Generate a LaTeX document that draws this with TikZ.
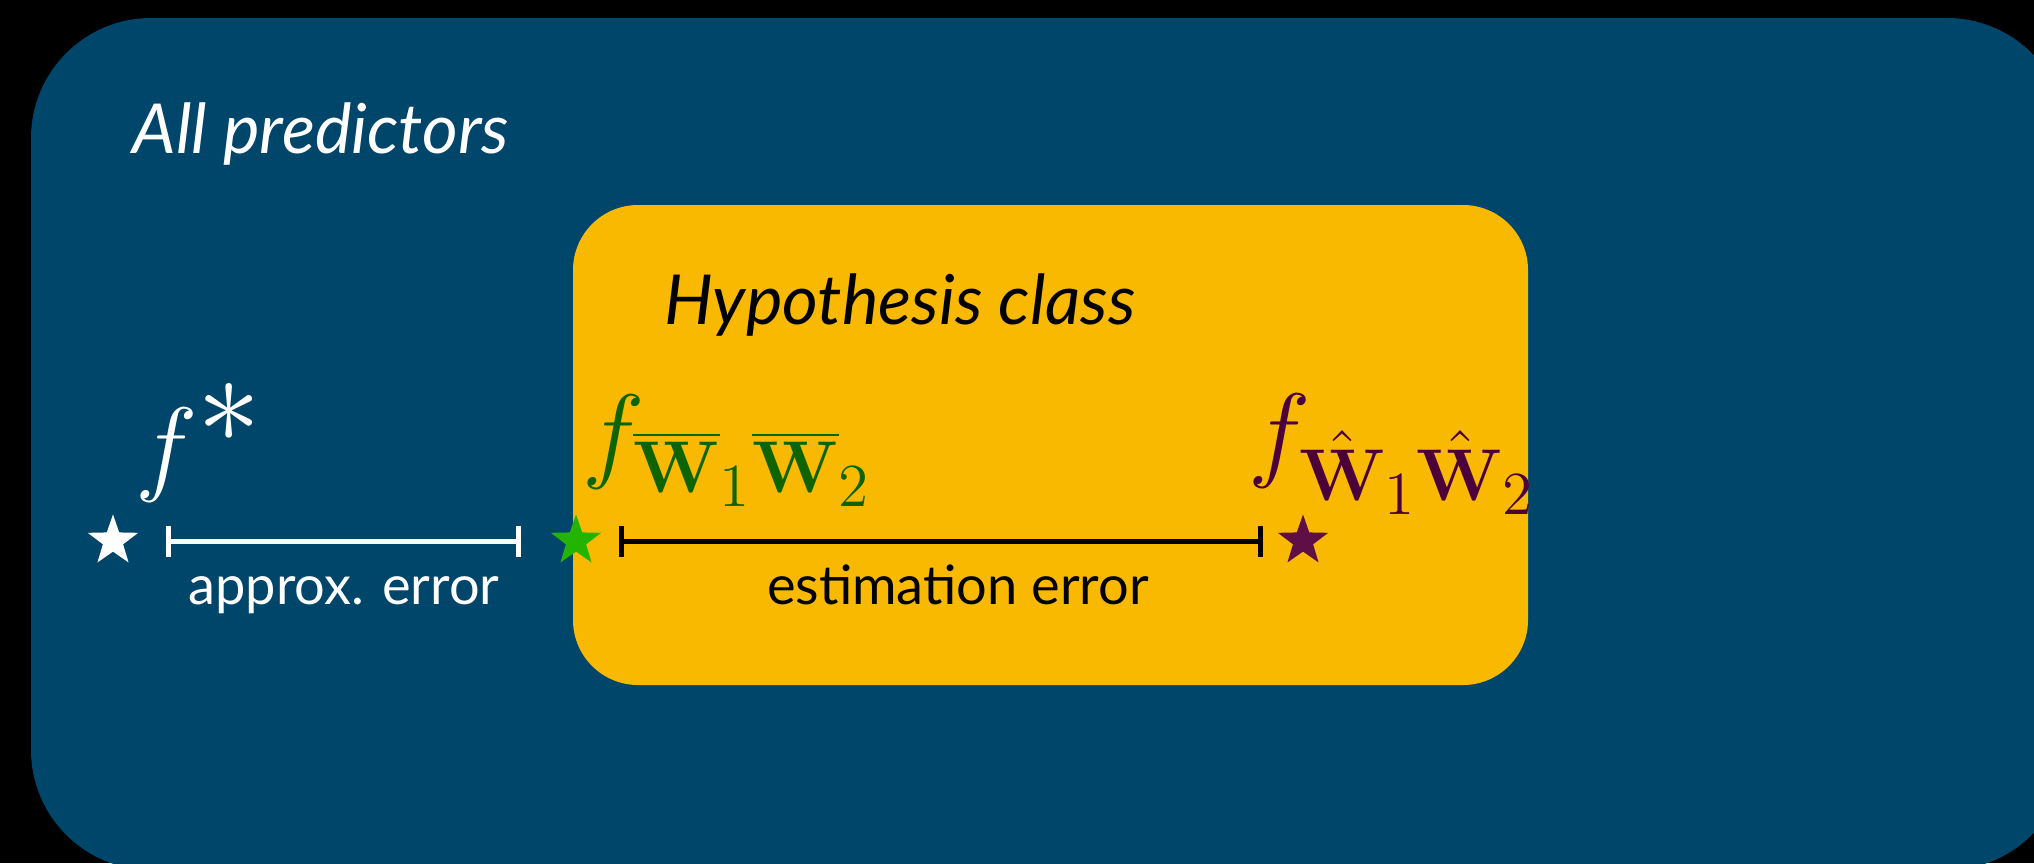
\RequirePackage{fix-cm}
\documentclass[tikz,border=0pt]{standalone}
\usepackage[no-math]{fontspec}
\newfontfamily\setfont{Lato}
\usetikzlibrary{shapes.geometric,arrows.meta}

\definecolor{allblue}{RGB}{0,69,106}
\definecolor{hypoyellow}{RGB}{249,185,0}
\definecolor{bestgreen}{RGB}{34,180,0}
\definecolor{bestgreentext}{RGB}{13,100,0}
\definecolor{ermpurple}{RGB}{96,15,70}
\definecolor{ermpurpletext}{RGB}{75,0,57}

\begin{document}
\begin{tikzpicture}[x=0.01cm, y=-0.01cm,
  setlabel/.style={anchor=base west, inner sep=0pt, font=\setfont\itshape\fontsize{19.6}{23}\selectfont},
  errlabel/.style={anchor=base, inner sep=0pt, font=\setfont\fontsize{15.4}{19}\selectfont},
  fnlabel/.style={anchor=base west, inner sep=0pt, scale=1.45, transform shape, font=\fontsize{20.74}{25}\selectfont},
  predstar/.style={star, star points=5, star point ratio=2.5, minimum size=0.53cm, inner sep=0pt, fill=#1},
  errbar/.style={line width=1.42pt, {Bar[width=0.31cm]}-{Bar[width=0.31cm]}}]
\useasboundingbox (0,0) rectangle (2034,863);
\clip (0,0) rectangle (2034,863);

% Sets
\fill[black] (0,0) rectangle (2034,863);
\fill[allblue, rounded corners=1.2cm] (31,18) rectangle (2067,870);
\fill[hypoyellow, rounded corners=0.65cm] (573,205) rectangle (1528,685);

\node[setlabel, text=white] (allpred) at (132,153) {All predictors};
\node[setlabel, text=black] (hypclass) at (664,324) {Hypothesis class};

% Predictors
\node[predstar=white] (fstar) at (113,541) {};
\node[predstar=bestgreen] (fbar) at (576,541) {};
\node[predstar=ermpurple] (fhat) at (1303,541) {};

\node[fnlabel, text=white] (fstarlbl) at (134,481)
  {$f^{\hbox{\fontsize{24.88}{26}\selectfont$\ast$}}$};
\node[fnlabel, text=bestgreentext] (fbarlbl) at (581,468)
  {$f_{\overline{\mathbf{W}}_1\overline{\mathbf{W}}_2}$};
\node[fnlabel, text=ermpurpletext] (fhatlbl) at (1247,467)
  {$f_{\hat{\mathbf{W}}_1\hat{\mathbf{W}}_2}$};

% Errors
\draw[errbar, white, shorten <=0.53cm, shorten >=0.55cm] (fstar.center) -- (fbar.center);
\draw[errbar, black, shorten <=0.43cm, shorten >=0.40cm] (fbar.center) -- (fhat.center);

\node[errlabel, text=white] (approx) at (344,604) {approx. error};
\node[errlabel, text=black] (estim) at (958,604) {estimation error};
\end{tikzpicture}
\end{document}
